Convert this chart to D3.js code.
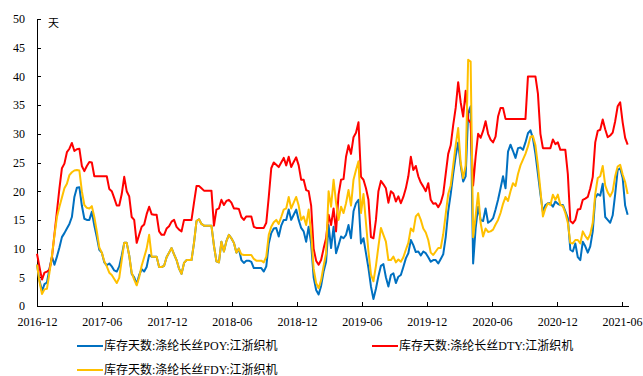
<!DOCTYPE html>
<html>
<head>
<meta charset="utf-8">
<script src="https://cdn.jsdelivr.net/npm/d3@7"></script>
<style>
  html, body { margin: 0; padding: 0; background: #fff; }
  svg { display: block; }
  .axis text { font-family: "Liberation Serif", "Times New Roman", serif; font-size: 12px; fill: #000; }
  .axis path, .axis line { stroke: #000; stroke-width: 1; shape-rendering: crispEdges; }
  .legend text { font-family: "Liberation Serif", "Noto Sans CJK SC", serif; font-size: 12px; fill: #000; }
</style>
</head>
<body>
<svg id="chart" width="643" height="376"></svg>
<script>
// Weekly inventory days of polyester filament at Jiangsu/Zhejiang weaving mills
const firstWeek = "2016-12-01";   // first weekly observation
const axisEnd = "2021-06-18";
const tickLabels = ["2016-12","2017-06","2017-12","2018-06","2018-12","2019-06","2019-12","2020-06","2020-12","2021-06"];
const yTicks = [0,5,10,15,20,25,30,35,40,45,50];
const unitLabel = "天";

const seriesNames = [
  "库存天数:涤纶长丝POY:江浙织机",
  "库存天数:涤纶长丝DTY:江浙织机",
  "库存天数:涤纶长丝FDY:江浙织机"
];
const seriesColors = ["#0070C0", "#FF0000", "#FFC000"];

const poy = [
  7.2,4.5,2.6,3.8,4.1,6.5,8.6,7.2,8.6,10.2,
  12.0,12.7,13.5,14.3,15.5,19.0,20.6,20.7,17.5,15.2,
  15.0,15.0,16.4,14.0,12.0,9.8,9.3,7.6,7.1,7.4,
  6.9,6.2,6.0,6.9,8.8,11.0,11.0,8.8,5.6,5.0,
  3.8,5.4,6.4,6.0,6.8,8.9,8.6,8.6,8.6,6.8,
  6.8,7.0,8.5,9.3,10.1,9.0,8.0,6.5,5.6,7.5,
  8.0,8.0,8.0,11.0,14.8,15.1,14.3,14.0,14.0,14.0,
  14.0,10.5,7.8,7.6,11.2,9.5,11.3,12.4,11.8,11.0,
  9.3,10.0,8.0,7.5,7.9,7.9,7.7,6.6,6.6,6.6,
  6.6,6.0,6.9,10.9,12.7,13.5,13.6,12.1,14.0,15.0,
  15.0,16.8,15.0,15.9,16.8,15.0,13.6,13.0,11.2,13.8,
  10.9,5.0,2.8,2.0,3.5,6.0,7.7,14.1,10.1,13.8,
  9.2,10.6,12.1,11.8,12.4,14.1,11.8,16.5,17.9,18.5,
  10.9,11.8,9.2,6.6,3.4,1.2,3.0,5.2,7.0,7.3,
  5.0,3.4,5.4,5.7,4.0,5.1,5.4,6.8,8.3,9.2,
  11.5,10.6,9.4,9.5,8.8,9.5,9.2,8.5,7.7,8.0,
  8.0,7.4,8.2,9.0,12.0,16.5,19.5,23.0,26.1,28.5,
  24.5,21.7,22.6,33.5,34.8,7.4,13.5,17.3,15.0,14.8,
  17.0,14.5,14.8,15.3,16.8,18.5,20.5,22.6,20.5,26.9,
  28.1,27.0,25.8,27.5,27.6,27.2,28.5,30.1,30.6,29.2,
  26.5,23.0,19.5,16.4,17.6,17.9,17.9,17.3,18.2,17.8,
  17.6,17.6,16.5,15.3,9.8,9.5,10.9,8.5,8.0,11.2,
  10.4,9.3,10.4,13.0,18.8,19.5,19.2,21.3,15.5,15.0,
  14.5,15.8,19.5,23.7,24.0,22.3,17.5,15.9
];

const dty = [
  9.1,6.8,4.6,5.8,6.0,6.3,8.5,12.5,16.5,20.5,
  24.0,24.8,26.8,27.4,28.4,27.0,27.3,27.4,24.4,23.5,
  24.4,25.1,25.0,22.6,22.6,22.6,22.6,22.6,22.6,20.4,
  20.0,18.8,17.5,17.5,19.5,22.5,20.0,19.1,15.5,15.0,
  11.0,12.4,13.8,14.2,16.0,17.3,16.0,15.9,15.9,13.0,
  12.4,12.4,13.5,13.9,14.7,15.0,13.8,13.3,13.0,15.0,
  15.0,15.0,15.0,18.0,20.9,20.9,20.5,20.1,20.1,20.1,
  20.1,14.0,16.8,17.0,18.5,17.6,18.3,18.5,18.0,17.0,
  17.0,16.9,15.5,15.0,15.6,15.6,15.6,13.8,13.6,13.6,
  13.6,13.6,14.5,19.0,24.0,25.0,24.6,24.2,25.0,25.8,
  24.5,26.0,24.2,25.1,25.9,24.5,22.0,22.0,20.2,20.0,
  17.5,10.0,7.9,7.2,8.0,10.0,11.8,15.9,14.1,17.0,
  13.0,19.4,22.0,22.1,26.0,28.0,26.5,29.4,30.2,32.0,
  22.5,22.0,20.5,18.5,12.0,11.8,15.0,20.0,21.8,21.2,
  20.5,18.0,20.0,19.6,18.2,19.1,17.9,19.0,20.5,22.6,
  26.0,23.7,24.4,22.6,21.5,20.8,20.0,21.4,18.5,17.8,
  17.9,17.2,18.0,19.5,23.0,26.5,28.0,31.5,34.5,39.0,
  35.5,33.0,37.5,32.5,31.9,21.0,26.0,30.0,29.3,30.5,
  32.2,30.0,29.0,28.5,29.5,33.0,34.5,34.5,32.6,32.6,
  32.6,32.6,32.6,32.6,32.6,32.6,32.6,40.0,40.0,40.0,
  40.0,37.0,30.0,27.5,27.5,27.5,27.5,29.0,28.2,28.5,
  27.2,27.2,27.2,23.0,14.8,14.4,15.0,16.8,16.9,18.5,
  18.7,19.0,20.5,22.5,28.5,30.5,30.7,32.5,30.8,29.4,
  29.7,30.2,32.2,34.8,35.5,32.0,29.3,28.1
];

const fdy = [
  7.2,4.2,2.1,2.9,3.0,5.8,8.8,12.3,15.5,17.3,
  18.9,20.5,21.3,22.8,23.3,23.6,23.7,23.6,20.0,17.6,
  17.1,17.0,17.4,15.5,13.0,10.2,9.3,7.8,6.9,5.8,
  5.4,4.7,4.0,4.9,8.0,11.0,11.0,8.8,5.8,4.6,
  3.6,5.0,7.0,8.5,10.0,12.4,8.6,8.6,8.6,6.8,
  6.8,7.0,8.5,9.3,10.1,9.0,8.0,6.5,5.6,7.5,
  8.0,8.0,8.0,11.0,14.8,15.1,14.3,14.0,14.0,14.0,
  14.0,10.5,7.8,7.6,11.2,9.5,11.3,12.4,11.8,11.0,
  9.3,10.0,9.0,8.9,8.9,8.9,8.9,8.2,7.9,7.9,
  7.9,7.6,8.6,12.4,13.8,14.6,15.0,14.3,15.5,16.8,
  17.0,19.0,17.0,18.0,19.0,17.5,15.0,15.6,14.1,16.8,
  12.7,6.5,4.0,3.1,4.5,7.0,9.2,20.0,17.3,22.0,
  18.0,15.0,17.3,16.2,17.9,20.2,17.5,22.0,23.7,25.2,
  16.2,19.5,14.5,9.5,5.5,4.3,7.0,10.4,13.6,12.4,
  11.2,8.0,8.0,8.6,7.6,8.1,7.7,8.5,9.8,11.0,
  13.5,13.0,15.6,16.1,15.0,13.5,12.8,11.5,9.3,8.9,
  9.5,10.1,10.1,12.5,16.0,19.5,21.0,24.5,28.0,31.0,
  25.0,22.3,24.5,42.9,42.6,12.0,15.6,19.7,14.5,12.1,
  13.5,12.9,13.0,13.3,14.2,15.0,16.2,17.8,19.0,18.3,
  20.0,21.4,20.9,23.0,24.5,25.5,26.5,27.8,29.5,29.6,
  28.0,24.5,20.2,15.6,17.0,17.9,17.6,19.4,18.5,19.4,
  17.6,17.4,16.2,14.5,11.0,10.9,11.5,11.5,10.9,13.0,
  12.2,11.6,12.5,14.5,19.5,22.3,22.6,24.4,21.0,19.8,
  19.1,20.0,22.6,24.3,24.6,22.9,21.6,19.5
];

const seriesValues = [poy, dty, fdy];

// weekly dates for each observation
const parseDay = d3.utcParse("%Y-%m-%d");
const parseMonth = d3.utcParse("%Y-%m");
const start = parseDay(firstWeek);
const weeks = poy.map((_, i) => d3.utcDay.offset(start, 7 * i));

const svg = d3.select("#chart");
svg.append("rect").attr("width", 643).attr("height", 376).attr("fill", "#fff");

const x = d3.scaleUtc()
  .domain([start, parseDay(axisEnd)])
  .range([37, 628]);
const y = d3.scaleLinear().domain([0, 50]).range([306, 19]);

// axes with inward ticks
const xAxis = d3.axisBottom(x)
  .tickValues(tickLabels.map(parseMonth))
  .tickFormat(d3.utcFormat("%Y-%m"))
  .tickSizeInner(-4).tickSizeOuter(0).tickPadding(11);
svg.append("g").attr("class", "axis").attr("transform", "translate(0,306)").call(xAxis);

const yAxis = d3.axisLeft(y)
  .tickValues(yTicks)
  .tickSizeInner(-4).tickSizeOuter(0).tickPadding(12);
svg.append("g").attr("class", "axis").attr("transform", "translate(37,0)").call(yAxis);

svg.append("text")
  .attr("x", 48).attr("y", 27)
  .attr("font-family", "Noto Sans CJK SC, sans-serif")
  .attr("font-size", 11)
  .attr("fill", "#000")
  .text(unitLabel);

// series lines
const line = d3.line()
  .x((d, i) => x(weeks[i]))
  .y(d => y(d));

seriesValues.forEach((vals, k) => {
  svg.append("path")
    .datum(vals)
    .attr("fill", "none")
    .attr("stroke", seriesColors[k])
    .attr("stroke-width", 2)
    .attr("stroke-linejoin", "round")
    .attr("d", line);
});

// legend
const legendPos = [[77, 346], [372, 346], [77, 370]];
const legend = svg.append("g").attr("class", "legend");
seriesNames.forEach((name, k) => {
  const [lx, ly] = legendPos[k];
  legend.append("line")
    .attr("x1", lx).attr("x2", lx + 26)
    .attr("y1", ly).attr("y2", ly)
    .attr("stroke", seriesColors[k]).attr("stroke-width", 2);
  legend.append("text")
    .attr("x", lx + 27).attr("y", ly + 4)
    .text(name);
});
</script>
</body>
</html>
